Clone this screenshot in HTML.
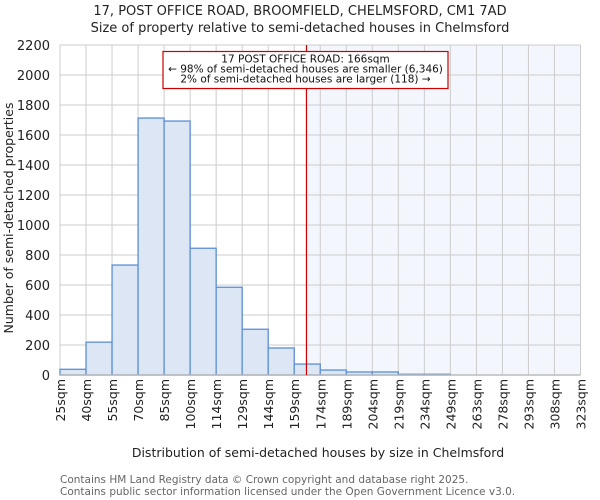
<!DOCTYPE html>
<html><head><meta charset="utf-8"><style>
body{margin:0;background:#fff;}
svg{display:block;font-family:"DejaVu Sans","Liberation Sans",sans-serif;}
</style></head><body>
<svg id="chart" width="600" height="500">
<text x="300" y="15" text-anchor="middle" font-size="13" fill="#222">17, POST OFFICE ROAD, BROOMFIELD, CHELMSFORD, CM1 7AD</text>
<text x="300" y="32" text-anchor="middle" font-size="13" fill="#222">Size of property relative to semi-detached houses in Chelmsford</text>
<g id="plot"></g>
<text x="318" y="457" text-anchor="middle" font-size="12.5" fill="#222">Distribution of semi-detached houses by size in Chelmsford</text>
<text transform="translate(13,218) rotate(-90)" text-anchor="middle" font-size="12.5" fill="#222">Number of semi-detached properties</text>
<text x="60" y="483" font-size="10.5" fill="#666">Contains HM Land Registry data © Crown copyright and database right 2025.</text>
<text x="60" y="495" font-size="10.5" fill="#666">Contains public sector information licensed under the Open Government Licence v3.0.</text>
</svg>
<script>
const binLabels=["25sqm","40sqm","55sqm","70sqm","85sqm","100sqm","114sqm","129sqm","144sqm","159sqm","174sqm","189sqm","204sqm","219sqm","234sqm","249sqm","263sqm","278sqm","293sqm","308sqm","323sqm"];
const counts=[38,219,733,1713,1693,845,585,305,180,73,33,20,20,5,5,0,0,0,0,0];
const yTicks=[0,200,400,600,800,1000,1200,1400,1600,1800,2000,2200];
const propertyIndex=9.47;
const NS="http://www.w3.org/2000/svg";
const L=60,R=580.5,T=45,B=375,yMax=2200;
const n=counts.length;
const xs=i=>L+(R-L)*i/n;
const ys=v=>B-(B-T)*v/yMax;
const g=document.getElementById('plot');
function mk(t,a,p){const e=document.createElementNS(NS,t);for(const k in a)e.setAttribute(k,a[k]);(p||g).appendChild(e);return e;}
const px=xs(propertyIndex);
const sh=mk('rect',{x:px,y:T,width:R-px,height:B-T,fill:'#f3f6fd'});


for(let i=0;i<=n;i++){const l=mk('line',{x1:xs(i),x2:xs(i),y1:T,y2:B,stroke:'#ccc','stroke-width':1});

}
yTicks.forEach(v=>{const l=mk('line',{x1:L,x2:R,y1:ys(v),y2:ys(v),stroke:'#ccc','stroke-width':1});


const t=mk('text',{x:L-10,y:ys(v)+5,'text-anchor':'end','font-size':13,fill:'#222'});t.textContent=v;

});
counts.forEach((c,i)=>{if(c<=0)return;const r=mk('rect',{x:xs(i),y:ys(c),width:xs(i+1)-xs(i),height:B-ys(c),fill:'#dce6f4',stroke:'#5b8fd6','stroke-width':1.3});

});
const ax=mk('line',{x1:L,x2:R,y1:B,y2:B,stroke:'#bbb','stroke-width':1.5});


binLabels.forEach((s,i)=>{const t=mk('text',{transform:`translate(${xs(i)+5},${B+4}) rotate(-90)`,'text-anchor':'end','font-size':12.5,fill:'#222'});t.textContent=s;

});
const pl=mk('line',{x1:px,x2:px,y1:T,y2:B,stroke:'#cc0000','stroke-width':1.2});


const box=mk('rect',{x:163,y:51.5,width:285,height:37,fill:'#fff',stroke:'#cc0000','stroke-width':1.2});


["17 POST OFFICE ROAD: 166sqm","← 98% of semi-detached houses are smaller (6,346)","2% of semi-detached houses are larger (118) →"].forEach((s,i)=>{const t=mk('text',{x:305.5,y:62.5+i*10,'text-anchor':'middle','font-size':10.5,fill:'#111'});t.textContent=s;

});
</script>
</body></html>
